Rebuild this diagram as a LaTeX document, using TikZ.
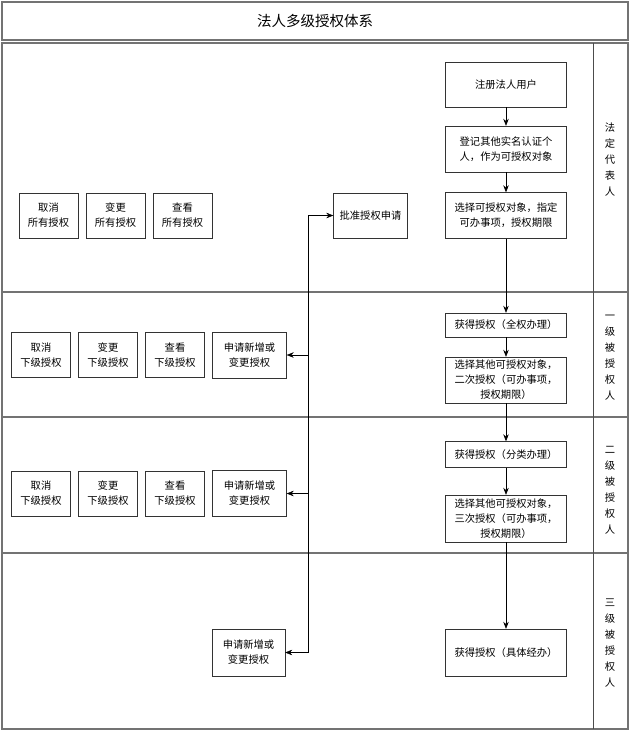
\documentclass[tikz,border=0pt]{standalone}
\usepackage{fontspec}
\setmainfont{Noto Sans CJK SC}
\usetikzlibrary{arrows.meta,positioning}

\begin{document}
\begin{tikzpicture}[x=1pt,y=-1pt,->,>={Stealth[length=7pt,width=5.5pt]},semithick,node distance=67pt]
  \tikzstyle{every node}=[font=\fontsize{10.3}{15}\selectfont]
  \tikzstyle{box}=[draw=black!80,thin,fill=white,align=center,inner sep=2pt]
  \tikzstyle{mainbox}=[box,minimum width=121pt]
  \tikzstyle{small}=[box,minimum width=59pt,minimum height=45pt]
  \tikzstyle{lane}=[draw=black!55,line width=1.6pt,-]
  \tikzstyle{lanelabel}=[align=center,font=\fontsize{10.3}{16}\selectfont]

  \useasboundingbox (0,0) rectangle (630,732);

  % frame and lanes
  \draw[lane] (2,2) rectangle (628,40);
  \draw[lane] (2,43) rectangle (628,729);
  \draw[lane] (2,292) -- (628,292);
  \draw[lane] (2,417) -- (628,417);
  \draw[lane] (2,553) -- (628,553);
  \draw[black!70,thin,-] (593,43) -- (593,729);

  \node (title) at (315,21) {\fontsize{14.5}{16}\selectfont 法人多级授权体系};

  \node[lanelabel] (lab0) at (610,160) {法\\定\\代\\表\\人};
  \node[lanelabel] (lab1) at (610,358) {一\\级\\被\\授\\权\\人};
  \node[lanelabel] (lab2) at (610,490) {二\\级\\被\\授\\权\\人};
  \node[lanelabel] (lab3) at (610,643) {三\\级\\被\\授\\权\\人};

  % main column
  \node[mainbox,minimum height=45pt] (reg)      at (506,84.5)  {注册法人用户};
  \node[mainbox,minimum height=46pt] (regother) at (506,149)   {登记其他实名认证个\\人，作为可授权对象};
  \node[mainbox,minimum height=46pt] (sel0)     at (506,215.5) {选择可授权对象，指定\\可办事项，授权期限};
  \node[mainbox,minimum height=24pt] (get1)     at (506,325)   {获得授权（全权办理）};
  \node[mainbox,minimum height=46pt] (sel1)     at (506,380)   {选择其他可授权对象，\\二次授权（可办事项，\\授权期限）};
  \node[mainbox,minimum height=26pt] (get2)     at (506,454.5) {获得授权（分类办理）};
  \node[mainbox,minimum height=47pt] (sel2)     at (506,518.5) {选择其他可授权对象，\\三次授权（可办事项，\\授权期限）};
  \node[mainbox,minimum height=47pt] (get3)     at (506,652.5) {获得授权（具体经办）};

  % legal representative
  \node[box,minimum width=74pt,minimum height=45pt] (approve) at (370.5,215.5) {批准授权申请};
  \node[small] (view0) at (182.5,215.5) {查看\\所有授权};
  \node[small] (chg0)    [left of=view0] {变更\\所有授权};
  \node[small] (cancel0) [left of=chg0]  {取消\\所有授权};

  % first level
  \node[box,minimum width=74pt,minimum height=46pt] (req1) at (249.5,355) {申请新增或\\变更授权};
  \node[small] (view1)   at (175,355)     {查看\\下级授权};
  \node[small] (chg1)    [left of=view1] {变更\\下级授权};
  \node[small] (cancel1) [left of=chg1]  {取消\\下级授权};

  % second level
  \node[box,minimum width=74pt,minimum height=46pt] (req2) at (249.5,493.5) {申请新增或\\变更授权};
  \node[small] (view2)   at (175,493.5)   {查看\\下级授权};
  \node[small] (chg2)    [left of=view2] {变更\\下级授权};
  \node[small] (cancel2) [left of=chg2]  {取消\\下级授权};

  % third level
  \node[box,minimum width=73pt,minimum height=47pt] (req3) at (248.5,652.5) {申请新增或\\变更授权};

  \path (reg)      edge (regother)
        (regother) edge (sel0)
        (sel0)     edge (get1)
        (get1)     edge (sel1)
        (sel1)     edge (get2)
        (get2)     edge (sel2)
        (sel2)     edge (get3);

  \coordinate (bus) at (308,215.5);
  \draw[thin] (bus) -- (approve.west);
  \draw[thin] (bus) |- (req3.east);
  \draw[thin] (bus |- req1.east) -- (req1.east);
  \draw[thin] (bus |- req2.east) -- (req2.east);
\end{tikzpicture}
\end{document}
